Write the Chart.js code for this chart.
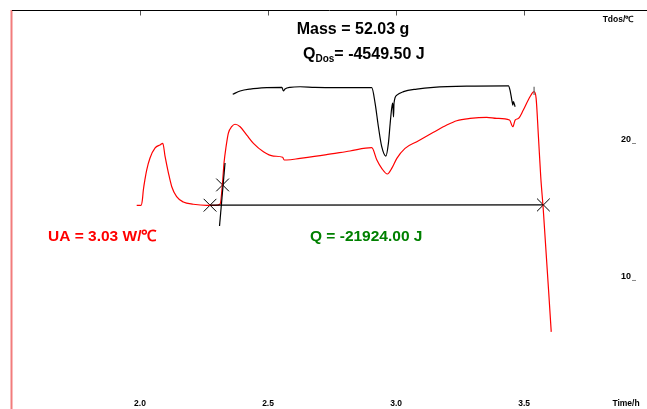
<!DOCTYPE html>
<html><head><meta charset="utf-8">
<script src="https://cdn.jsdelivr.net/npm/chart.js@4.4.0/dist/chart.umd.min.js"></script>
<style>html,body{margin:0;padding:0;background:#fff;overflow:hidden}#wrap{width:647px;height:409px;position:relative}</style>
</head><body><div id="wrap"><canvas id="c"></canvas></div>
<script>
// Red curve (temperature, °C) vs time (h)
const redTime = [1.987,2.004,2.009,2.013,2.020,2.026,2.039,2.059,2.078,2.089,2.098,2.111,2.124,2.143,2.169,2.208,2.261,2.293,2.313,2.323,2.328,2.336,2.345,2.358,2.371,2.391,2.417,2.443,2.482,2.521,2.557,2.563,2.573,2.625,2.723,2.820,2.905,2.925,2.944,2.966,2.983,3.003,3.035,3.081,3.146,3.198,3.237,3.289,3.354,3.393,3.443,3.456,3.465,3.478,3.497,3.523,3.539,3.547,3.556,3.565,3.575,3.606];
const redTemp = [15.23,15.23,15.60,16.35,17.20,17.81,18.69,19.42,19.64,19.76,18.78,17.59,16.59,15.86,15.47,15.31,15.23,15.23,15.33,17.08,18.32,19.51,20.51,20.97,21.15,20.97,20.36,19.76,19.15,18.83,18.74,18.54,18.54,18.66,18.91,19.20,19.44,18.54,17.93,17.52,17.93,18.66,19.39,19.88,20.56,21.09,21.41,21.58,21.66,21.58,21.46,20.97,21.46,21.58,22.19,23.16,23.53,23.04,20.24,17.32,14.89,5.99];
// Black curve (Tdos)
const blackTime = [2.362,2.391,2.430,2.495,2.554,2.560,2.566,2.586,2.625,2.683,2.742,2.820,2.905,2.918,2.931,2.944,2.960,2.970,2.977,2.983,2.987,2.990,2.992,3.003,3.029,3.081,3.146,3.276,3.439,3.445,3.452,3.456,3.458,3.465];
const blackVal  = [23.34,23.58,23.72,23.82,23.85,23.58,23.72,23.85,23.89,23.84,23.83,23.82,23.82,22.70,20.97,19.51,18.83,19.76,21.22,22.34,22.70,21.68,22.70,23.28,23.53,23.72,23.85,23.94,23.96,23.65,22.92,22.55,22.80,22.43];
const peakTickTime = [3.539,3.539];
const peakTickVal = [23.89,23.28];
// Tangent and baseline
const tangentTime = [2.3105,2.332];
const tangentVal = [13.72,18.32];
const baseTime = [2.2734,3.5754];
const baseVal = [15.24,15.26];
// Markers
const markTime = [2.2734,2.3225,3.5754];
const markVal = [15.24,16.72,15.26];
// Axis ticks
const xTicks = [2.0,2.5,3.0,3.5];
const xTickLabels = ['2.0','2.5','3.0','3.5'];
const yTicks = [20,10];
const yTickLabels = ['20','10'];

function pts(xs, ys){ return xs.map((x,i)=>({x:x, y:ys[i]})); }

const deco = {
  id:'deco',
  afterDraw(chart){
    const ctx = chart.ctx, xs = chart.scales.x, ys = chart.scales.y;
    ctx.save();
    ctx.strokeStyle = '#f27c7c'; ctx.lineWidth = 2;
    ctx.beginPath(); ctx.moveTo(11.5, 10); ctx.lineTo(11.5, 409); ctx.stroke();
    ctx.strokeStyle = '#000'; ctx.lineWidth = 1;
    ctx.beginPath(); ctx.moveTo(12, 10.5); ctx.lineTo(647, 10.5); ctx.stroke();
    ctx.strokeStyle = '#555';
    xTicks.forEach(v=>{ const px = Math.round(xs.getPixelForValue(v))+0.5; ctx.beginPath(); ctx.moveTo(px, 11); ctx.lineTo(px, 15.5); ctx.stroke(); });
    ctx.fillStyle = '#000'; ctx.font = 'bold 8.5px "Liberation Sans", Arial, sans-serif';
    ctx.textAlign = 'center'; ctx.textBaseline = 'middle';
    xTicks.forEach((v,i)=>{ ctx.fillText(xTickLabels[i], xs.getPixelForValue(v), 404); });
    ctx.fillText('Time/h', 626, 404);
    ctx.font = 'bold 9px "Liberation Sans", Arial, sans-serif';
    yTicks.forEach((v,i)=>{ const py = ys.getPixelForValue(v); ctx.fillText(yTickLabels[i], 626, py);
      ctx.strokeStyle='#888'; ctx.beginPath(); ctx.moveTo(632, py+3.5); ctx.lineTo(636, py+3.5); ctx.stroke(); });
    ctx.font = 'bold 8.5px "Liberation Sans", Arial, sans-serif';
    ctx.fillText('Tdos/\u2103', 618, 20);
    ctx.font = 'bold 16px "Liberation Sans", Arial, sans-serif';
    ctx.fillText('Mass = 52.03 g', 353, 30);
    ctx.textAlign = 'left';
    let x0 = 303;
    ctx.fillText('Q', x0, 55); x0 += ctx.measureText('Q').width;
    ctx.font = 'bold 10px "Liberation Sans", Arial, sans-serif';
    ctx.fillText('Dos', x0, 59); x0 += ctx.measureText('Dos').width;
    ctx.font = 'bold 16px "Liberation Sans", Arial, sans-serif';
    ctx.fillText('= -4549.50 J', x0, 55);
    ctx.font = 'bold 15.5px "Liberation Sans", Arial, sans-serif';
    ctx.fillStyle = '#ff0000';
    ctx.fillText('UA = 3.03 W/\u2103', 48, 237);
    ctx.fillStyle = '#008000';
    ctx.fillText('Q = -21924.00 J', 310, 237);
    ctx.restore();
  }
};

new Chart(document.getElementById('c'), {
  type:'line',
  data:{ datasets:[
    {data:pts(blackTime,blackVal), borderColor:'#000', borderWidth:1.2, pointRadius:0, cubicInterpolationMode:'monotone'},
    {data:pts(peakTickTime,peakTickVal), borderColor:'#666', borderWidth:1.2, pointRadius:0},
    {data:pts(baseTime,baseVal), borderColor:'#000', borderWidth:1.2, pointRadius:0},
    {data:pts(tangentTime,tangentVal), borderColor:'#000', borderWidth:1.2, pointRadius:0},
    {data:pts(redTime,redTemp), borderColor:'#ff0000', borderWidth:1.2, pointRadius:0, cubicInterpolationMode:'monotone'},
    {data:pts(markTime,markVal), showLine:false, pointStyle:'crossRot', pointRadius:9, pointBorderColor:'#000', pointBorderWidth:1, pointHoverRadius:9}
  ]},
  options:{
    responsive:true, maintainAspectRatio:false, animation:false,
    layout:{ padding:{left:12, top:11, right:0, bottom:0}, autoPadding:false },
    plugins:{ legend:{display:false}, tooltip:{enabled:false} },
    events:[],
    scales:{
      x:{ type:'linear', min:1.5, max:3.98, display:false },
      y:{ type:'linear', min:0.36, max:29.42, display:false }
    }
  },
  plugins:[deco]
});
</script></body></html>
